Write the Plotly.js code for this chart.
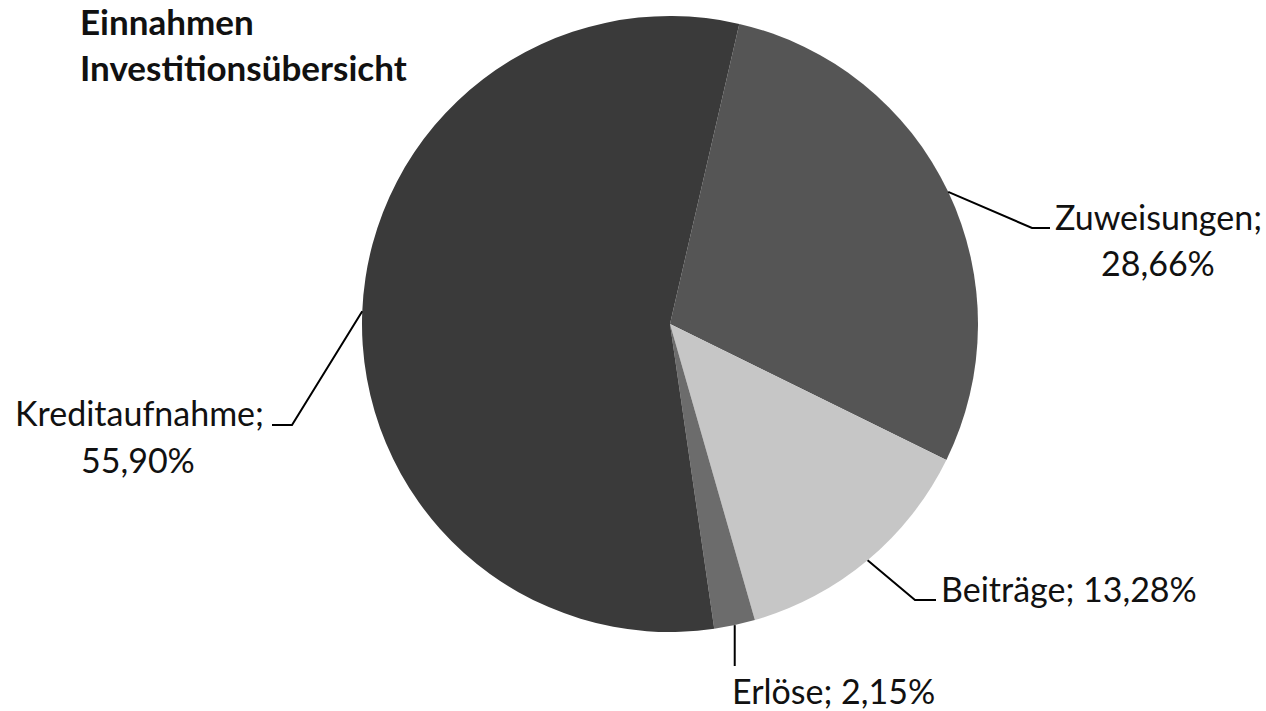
<!DOCTYPE html>
<html><head><meta charset="utf-8">
<script src="https://cdn.plot.ly/plotly-3.0.1.min.js"></script>
<style>html,body{margin:0;padding:0;background:#fff}#chart{width:1266px;height:711px}</style>
</head><body><div id="chart"></div>
<script>
// ---- data ----
const categories = ["Zuweisungen", "Beiträge", "Erlöse", "Kreditaufnahme"];
const values = [28.66, 13.28, 2.15, 55.90];
const percentLabels = ["28,66%", "13,28%", "2,15%", "55,90%"];
const titleLines = ["Einnahmen", "Investitionsübersicht"];

// ---- style / layout ----
const colors = ["#555555", "#c6c6c6", "#6c6c6c", "#3a3a3a"];
const W = 1266, H = 711;
const cx = 670, cy = 324, R = 308, ROT = 13;
const FONT = "Lato, 'DejaVu Sans', sans-serif";
const LSIZE = 34;
const px = x => x / W, py = y => 1 - y / H;

// leader-line elbows and label positions (layout only)
const leader = [
  {pts: [[1032, 228], [1050, 228]], lines: [{t: c => c + ";", x: 1053, y: 216, xa: "left"}, {t: (c, p) => p, x: 1158, y: 262, xa: "center"}]},
  {pts: [[915, 600], [936, 600]], lines: [{t: (c, p) => c + "; " + p, x: 939, y: 588, xa: "left"}]},
  {pts: [[null, 666]], lines: [{t: (c, p) => c + "; " + p, x: 730, y: 690, xa: "left"}]},
  {pts: [[292, 425], [272, 425]], lines: [{t: c => c + ";", x: 139, y: 412, xa: "center"}, {t: (c, p) => p, x: 138, y: 459, xa: "center"}]}
];

// slice mid-angle anchors on the rim, derived from the data
const total = values.reduce((a, b) => a + b, 0);
let acc = 0;
const anchors = values.map(v => {
  const mid = (ROT + (acc + v / 2) / total * 360) * Math.PI / 180;
  acc += v;
  return [cx + R * Math.sin(mid), cy - R * Math.cos(mid)];
});

const shapes = [];
const annotations = [];
categories.forEach((c, i) => {
  const a = anchors[i];
  let d = `M${px(a[0])},${py(a[1])}`;
  leader[i].pts.forEach(p => {
    const x = p[0] === null ? a[0] : p[0];
    d += ` L${px(x)},${py(p[1])}`;
  });
  shapes.push({type: "path", xref: "paper", yref: "paper", path: d, line: {color: "#000", width: 2}});
  leader[i].lines.forEach(l => {
    annotations.push({
      xref: "paper", yref: "paper", x: px(l.x), y: py(l.y), xanchor: l.xa, yanchor: "middle",
      text: l.t(c, percentLabels[i]), showarrow: false,
      font: {family: FONT, size: LSIZE, color: "#111"}
    });
  });
});

annotations.push({
  xref: "paper", yref: "paper", x: px(78), y: py(-2), xanchor: "left", yanchor: "top", align: "left",
  text: titleLines.map(t => "<b>" + t + "</b>").join("<br>"), showarrow: false,
  font: {family: FONT, size: 35, color: "#111"}
});

const trace = {
  type: "pie",
  labels: categories,
  values: values,
  sort: false,
  direction: "clockwise",
  rotation: ROT,
  textinfo: "none",
  hoverinfo: "label+percent",
  marker: {colors: colors, line: {width: 0}},
  domain: {x: [px(cx - R), px(cx + R)], y: [py(cy + R), py(cy - R)]},
  showlegend: false
};

const layout = {
  width: W, height: H,
  margin: {l: 0, r: 0, t: 0, b: 0},
  paper_bgcolor: "#fff",
  showlegend: false,
  shapes: shapes,
  annotations: annotations
};

Plotly.newPlot("chart", [trace], layout, {staticPlot: true, displayModeBar: false});
</script>
</body></html>
